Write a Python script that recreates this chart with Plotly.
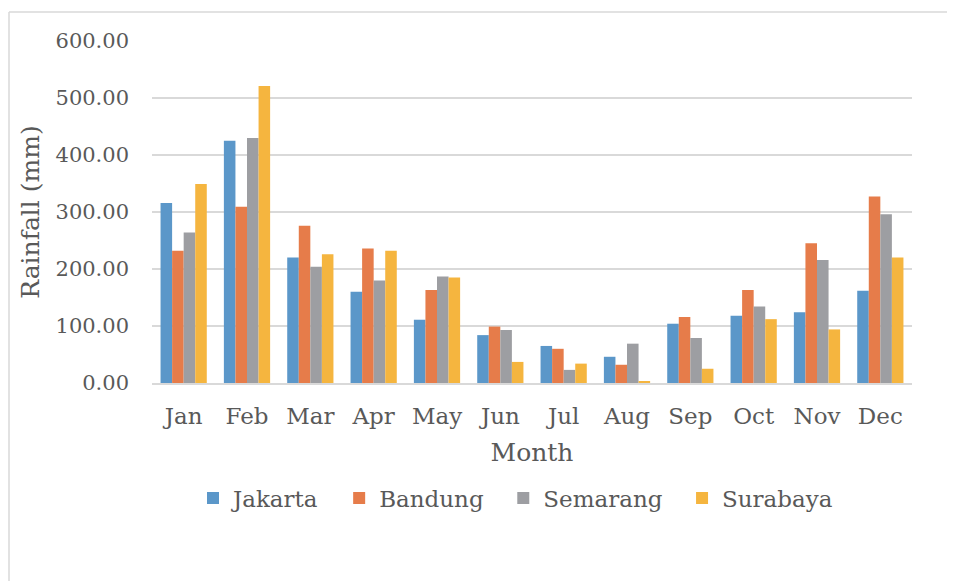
import plotly.graph_objs as go

months = ["Jan", "Feb", "Mar", "Apr", "May", "Jun", "Jul", "Aug", "Sep", "Oct", "Nov", "Dec"]
jakarta = [316, 425, 220, 160, 111, 84, 65, 46, 104, 118, 124, 162]
bandung = [232, 309, 276, 236, 163, 99, 60, 32, 116, 163, 245, 327]
semarang = [264, 430, 204, 180, 187, 93, 23, 69, 79, 134, 216, 296]
surabaya = [349, 521, 226, 232, 185, 37, 34, 2, 25, 112, 94, 220]

colors = {"Jakarta": "#5B97C9",
          "Bandung": "#E67C4A",
          "Semarang": "#9D9EA2",
          "Surabaya": "#F5B53F"}
series = {"Jakarta": jakarta, "Bandung": bandung,
          "Semarang": semarang, "Surabaya": surabaya}

# page body has an 8px margin, so the figure sits 8px in from the window edge
off = 8
W, H = 955 - off, 581 - off
ml, mr, mt, mb = 152 - off, 43, 41 - off, 198
pw, ph = W - ml - mr, H - mt - mb

font = "DejaVu Serif"
txt = "#595959"
pad = "\u00a0\u00a0"  # a bit more room between legend entries

fig = go.Figure()
for name, vals in series.items():
    fig.add_trace(go.Bar(x=months, y=vals, name=name + pad,
                         marker_color=colors[name], marker_line_width=0))

# screen px -> paper coords (for the outer chart border)
def px_x(p):
    return (p - off - ml) / pw

def px_y(p):
    return (H - mb - (p - off)) / ph

fig.add_shape(type="line", xref="paper", yref="paper",
              x0=px_x(9), x1=px_x(970), y0=px_y(12), y1=px_y(12),
              line=dict(color="#D9D9D9", width=1.5))
fig.add_shape(type="line", xref="paper", yref="paper",
              x0=px_x(9), x1=px_x(9), y0=px_y(12), y1=px_y(600),
              line=dict(color="#D9D9D9", width=1.5))

fig.update_layout(
    width=W, height=H,
    margin=dict(l=ml, r=mr, t=mt, b=mb, autoexpand=False),
    plot_bgcolor="white", paper_bgcolor="white",
    barmode="group", bargap=0.27, bargroupgap=0,
    font=dict(family=font, size=21, color=txt),
    legend=dict(orientation="h", x=px_x(193), xanchor="left",
                y=px_y(498), yanchor="middle",
                font=dict(family=font, size=23, color=txt),
                itemwidth=30),
    showlegend=True,
)
fig.update_xaxes(showgrid=False, showline=True, linecolor="#D9D9D9", linewidth=1.5,
                 ticks="", ticklabelstandoff=12, tickfont=dict(size=23),
                 title=dict(text="Month", font=dict(size=25, color=txt), standoff=15))
fig.update_yaxes(range=[0, 600], dtick=100, tickformat=".2f",
                 showgrid=True, gridcolor="#D9D9D9", gridwidth=1.5,
                 zeroline=False, showline=False, ticks="",
                 ticklabelstandoff=22, tickfont=dict(size=21),
                 title=dict(text="Rainfall (mm)", font=dict(size=25, color=txt), standoff=8))

fig.write_html("out.html")
